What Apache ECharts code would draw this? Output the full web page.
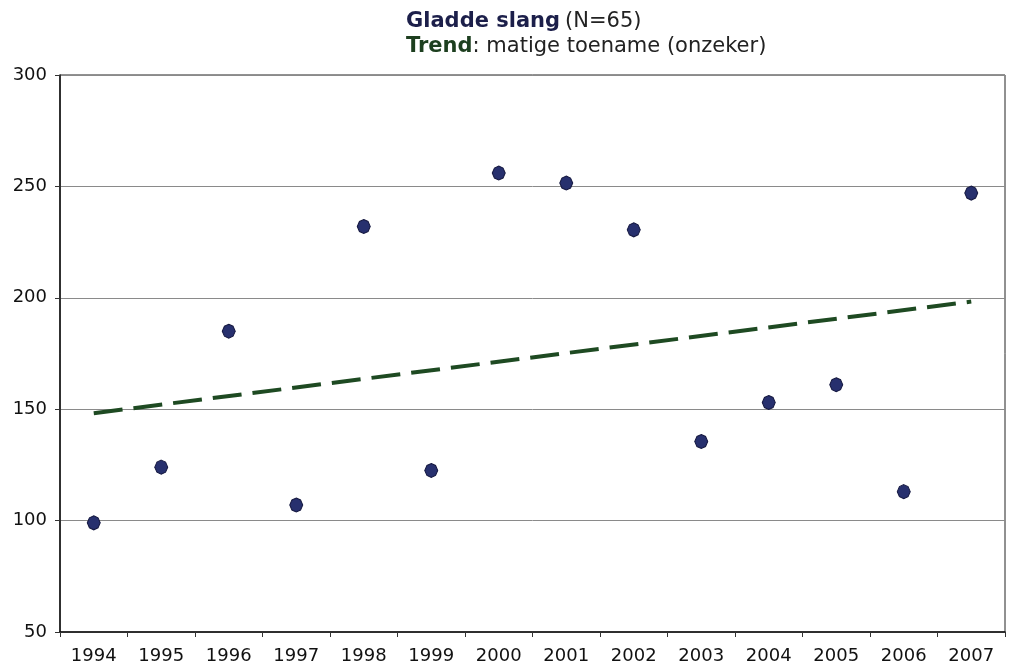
<!DOCTYPE html>
<html><head><meta charset="utf-8">
<script src="https://cdn.jsdelivr.net/npm/echarts@6/dist/echarts.min.js"></script>
<style>html,body{margin:0;padding:0;background:#fff}#c{width:1014px;height:668px}</style>
</head><body><div id="c"></div>
<script>
const years = ['1994','1995','1996','1997','1998','1999','2000','2001','2002','2003','2004','2005','2006','2007'];
const values = [99, 124, 185, 107, 232, 122.5, 256, 251.5, 230.5, 135.5, 153, 161, 113, 247];
const trendStart = ['1994', 148.2];
const trendEnd = ['2007', 198.3];
const yTicks = [50, 100, 150, 200, 250, 300];

const chart = echarts.init(document.getElementById('c'));
const font = 'DejaVu Sans';
const fs = 21;
chart.setOption({
  animation: false,
  backgroundColor: '#fff',
  title: [
    {left: 406, top: 10, padding: 0, text: '{b|Gladde slang} {n|(N=65)}',
     textStyle: {rich: {
       b: {fontFamily: font, fontSize: fs, lineHeight: 24, fontWeight: 'bold', color: '#1c1f4a'},
       n: {fontFamily: font, fontSize: fs, lineHeight: 24, fontWeight: 'normal', color: '#222'}}}},
    {left: 406, top: 35, padding: 0, text: '{b|Trend}{n|: matige toename (onzeker)}',
     textStyle: {rich: {
       b: {fontFamily: font, fontSize: fs, lineHeight: 24, fontWeight: 'bold', color: '#1d3f1f'},
       n: {fontFamily: font, fontSize: fs, lineHeight: 24, fontWeight: 'normal', color: '#222'}}}}
  ],
  grid: {left: 60, right: 9, top: 75, bottom: 36, show: true, borderColor: '#222', borderWidth: 1},
  xAxis: {
    type: 'category', data: years, boundaryGap: true,
    axisLine: {lineStyle: {color: '#111', width: 1.5}},
    axisTick: {show: true, length: 5, inside: false, lineStyle: {color: '#333'}},
    axisLabel: {fontFamily: font, fontSize: 18, color: '#111', margin: 15}
  },
  yAxis: {
    type: 'value', min: 50, max: 300, interval: 50,
    axisLine: {show: true, lineStyle: {color: '#111', width: 1.5}},
    axisTick: {show: true, length: 5, lineStyle: {color: '#333'}},
    axisLabel: {fontFamily: font, fontSize: 18, color: '#111', margin: 13,
      formatter: v => yTicks.includes(v) ? String(v) : ''},
    splitLine: {show: true, lineStyle: {color: '#8a8a8a', width: 1}}
  },
  series: [
    {type: 'line', data: [trendStart, trendEnd], symbol: 'none', z: 2,
     lineStyle: {color: '#1e4a22', width: 4, type: [29, 11]}},
    {type: 'scatter', data: values, z: 3,
     symbol: 'path://M0,-7 L4,-5 L6,0 L4,5 L0,7 L-4,5 L-6,0 L-4,-5Z', symbolSize: [13, 14],
     itemStyle: {color: '#27306e', borderColor: '#14173f', borderWidth: 1, opacity: 1}}
  ]
});
</script></body></html>
